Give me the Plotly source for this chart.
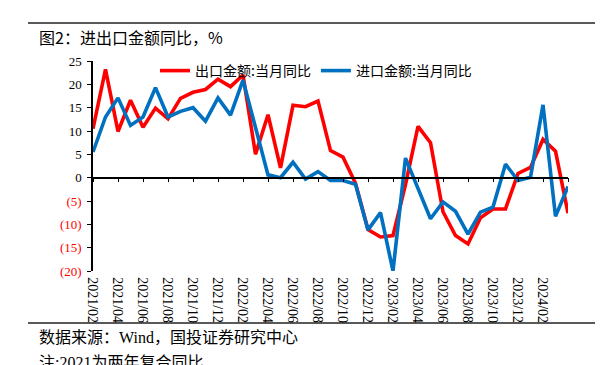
import plotly.graph_objects as go

# ---------------- data ----------------
months = ["2021/02", "2021/03", "2021/04", "2021/05", "2021/06", "2021/07", "2021/08",
          "2021/09", "2021/10", "2021/11", "2021/12", "2022/01", "2022/02", "2022/03",
          "2022/04", "2022/05", "2022/06", "2022/07", "2022/08", "2022/09", "2022/10",
          "2022/11", "2022/12", "2023/01", "2023/02", "2023/03", "2023/04", "2023/05",
          "2023/06", "2023/07", "2023/08", "2023/09", "2023/10", "2023/11", "2023/12",
          "2024/01", "2024/02", "2024/03", "2024/04"]

export_yoy = [10.5, 23.2, 9.9, 16.6, 10.8, 14.9, 12.6, 17.0, 18.3, 18.9, 21.1, 19.5, 22.0,
              5.0, 13.5, 2.1, 15.5, 15.2, 16.4, 5.8, 4.4, -1.2, -11.1, -12.7, -12.4, -1.5,
              11.0, 7.5, -7.3, -12.4, -14.2, -8.6, -6.7, -6.7, 0.9, 2.2, 8.2, 5.7, -7.6]

import_yoy = [5.5, 13.0, 17.1, 11.2, 13.0, 19.3, 13.0, 14.2, 15.0, 12.1, 17.1, 13.4, 20.9,
              10.8, 0.6, 0.0, 3.3, -0.3, 1.3, -0.6, -0.6, -1.4, -11.2, -7.5, -20.0, 4.2,
              -2.2, -8.8, -5.2, -7.2, -12.1, -7.4, -6.3, 2.9, -0.6, 0.1, 15.6, -8.3, -1.9]

series_names = ["出口金额:当月同比", "进口金额:当月同比"]
y_tick_vals = [-20, -15, -10, -5, 0, 5, 10, 15, 20, 25]
y_tick_text = ["(20)", "(15)", "(10)", "(5)", "0", "5", "10", "15", "20", "25"]

title_text = "图2：进出口金额同比，%"
source_text = "数据来源：Wind，国投证券研究中心"
note_text = "注:2021为两年复合同比"

# ---------------- layout helpers ----------------
# screenshot pixel positions are converted to figure pixels (page body margin = 8px)
OFF = 8
W, H = 608, 365
L, R, T, B = 93 - OFF, 568 - OFF, 61 - OFF, 271 - OFF  # plot area in figure pixels
Y_MIN, Y_MAX = -20, 25


def px_x(x):
    return (x - OFF - L) / (R - L)


def px_y(y):
    return (B - (y - OFF)) / (B - T)


x_idx = list(range(len(months)))
tick_idx = x_idx[::2]
tick_txt = [months[i] if i < len(months) - 1 else "" for i in tick_idx]

y_tick_colored = [
    (f'<span style="color:#FF0000">{t}</span>' if v < 0 else t)
    for v, t in zip(y_tick_vals, y_tick_text)
]

fig = go.Figure()
fig.add_trace(go.Scatter(x=x_idx, y=export_yoy, mode="lines", name=series_names[0],
                         line=dict(color="#FF0000", width=3.6)))
fig.add_trace(go.Scatter(x=x_idx, y=import_yoy, mode="lines", name=series_names[1],
                         line=dict(color="#0070C0", width=3.6)))

serif = "Liberation Serif, Noto Sans CJK SC"
cjk = "Noto Sans CJK SC, Liberation Serif"

fig.update_layout(
    width=W, height=H,
    margin=dict(l=L, r=W - R, t=T, b=H - B, pad=0, autoexpand=False),
    paper_bgcolor="white", plot_bgcolor="white",
    showlegend=True,
    legend=dict(orientation="h", x=px_x(155), y=px_y(71), xanchor="left", yanchor="middle",
                font=dict(family=cjk, size=14, color="black"),
                bgcolor="rgba(0,0,0,0)", borderwidth=0, itemwidth=30,
                tracegroupgap=0),
    xaxis=dict(
        range=[0, len(months) - 1],
        anchor="free", position=(0 - Y_MIN) / (Y_MAX - Y_MIN),
        showline=True, linecolor="black", linewidth=1.5,
        ticks="outside", ticklen=4, tickwidth=1, tickcolor="black",
        tickvals=tick_idx, ticktext=tick_txt, tickangle=90,
        ticklabelstandoff=92,
        tickfont=dict(family=serif, size=14, color="black"),
        showgrid=False, zeroline=False, automargin=False,
    ),
    yaxis=dict(
        range=[Y_MIN, Y_MAX],
        showline=True, linecolor="black", linewidth=1.5,
        ticks="outside", ticklen=4, tickwidth=1, tickcolor="black",
        tickvals=y_tick_vals, ticktext=y_tick_colored,
        ticklabelstandoff=3,
        tickfont=dict(family=serif, size=13, color="black"),
        showgrid=False, zeroline=False, automargin=False,
    ),
    annotations=[
        dict(text=title_text, xref="paper", yref="paper", x=px_x(37), y=px_y(37),
             xanchor="left", yanchor="middle", showarrow=False,
             font=dict(family=cjk, size=16, color="black")),
        dict(text=source_text, xref="paper", yref="paper", x=px_x(37), y=px_y(337),
             xanchor="left", yanchor="middle", showarrow=False,
             font=dict(family=serif, size=16, color="black")),
        dict(text=note_text, xref="paper", yref="paper", x=px_x(37), y=px_y(362),
             xanchor="left", yanchor="middle", showarrow=False,
             font=dict(family=serif, size=16, color="black")),
    ],
    shapes=[
        dict(type="line", xref="paper", yref="paper", x0=px_x(28), x1=px_x(595),
             y0=px_y(23), y1=px_y(23), line=dict(color="#222222", width=1.5)),
        dict(type="line", xref="paper", yref="paper", x0=px_x(28), x1=px_x(595),
             y0=px_y(323), y1=px_y(323), line=dict(color="#222222", width=1.5)),
    ],
)

fig.write_html("out.html")
